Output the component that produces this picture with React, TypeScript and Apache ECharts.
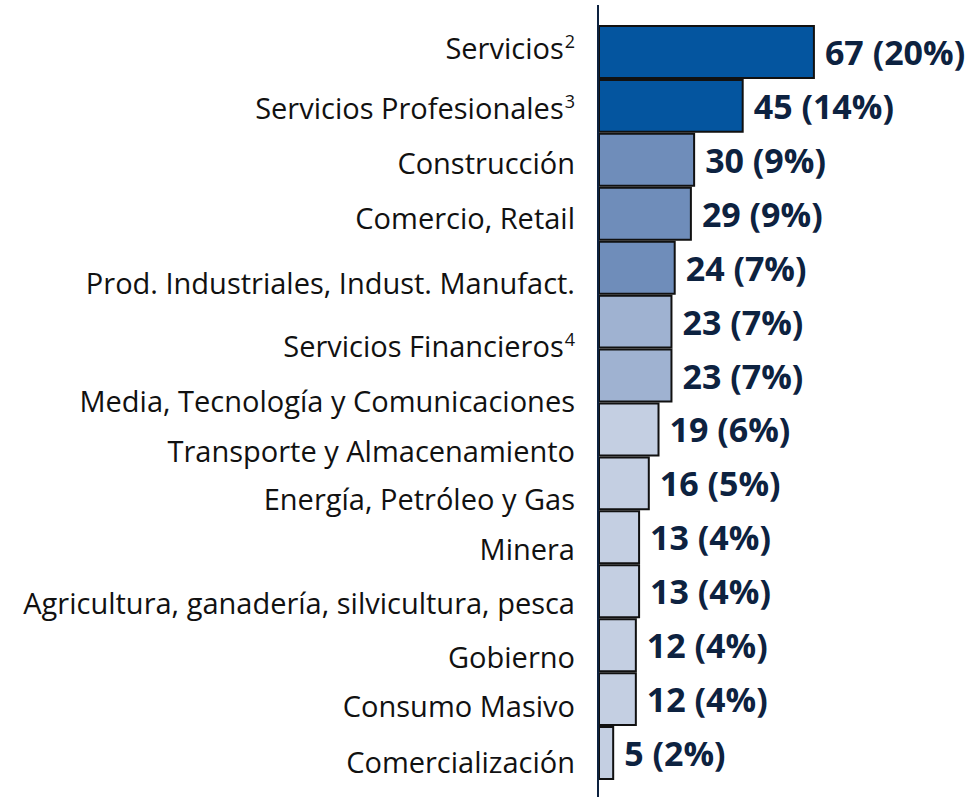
import React, { useEffect, useRef } from "react";
import * as echarts from "echarts";

const categories = [
  "Servicios",
  "Servicios Profesionales",
  "Construcción",
  "Comercio, Retail",
  "Prod. Industriales, Indust. Manufact.",
  "Servicios Financieros",
  "Media, Tecnología y Comunicaciones",
  "Transporte y Almacenamiento",
  "Energía, Petróleo y Gas",
  "Minera",
  "Agricultura, ganadería, silvicultura, pesca",
  "Gobierno",
  "Consumo Masivo",
  "Comercialización",
];
const footnotes = ["2", "3", "", "", "", "4", "", "", "", "", "", "", "", ""];
const counts = [67, 45, 30, 29, 24, 23, 23, 19, 16, 13, 13, 12, 12, 5];
const percents = [20, 14, 9, 9, 7, 7, 7, 6, 5, 4, 4, 4, 4, 2];
const tiers = [0, 0, 1, 1, 1, 2, 2, 3, 3, 3, 3, 3, 3, 3];

const palette = ["#04559f", "#6f8dba", "#9fb2d1", "#c4cfe2"];
// vertical nudge of each category label (px), as in the reference layout
const labelShift = [-4, 2, 3, 4, 15, 24, 25, 21, 15, 11, 11, 11, 6, 8];

export default function App() {
  const ref = useRef<HTMLDivElement>(null);
  useEffect(() => {
    if (!ref.current) return;
    const chart = echarts.init(ref.current, undefined, { renderer: "svg" });
    const rich: Record<string, any> = {};
    const mainLH = 34;
    const supLH = 20;
    const supRaise = mainLH - supLH;
    labelShift.forEach((d, i) => {
      const top = d >= 0 ? 2 * d : 0;
      const bottom = d >= 0 ? 0 : -2 * d;
      rich["n" + i] = {
        fontFamily: "Open Sans",
        fontSize: 29,
        color: "#111111",
        lineHeight: mainLH,
        padding: [top, 0, bottom, 0],
      };
      rich["s" + i] = {
        fontFamily: "Open Sans",
        fontSize: 18,
        color: "#111111",
        lineHeight: supLH,
        padding: [top, 0, bottom + supRaise, 1],
      };
    });
    chart.setOption({
      animation: false,
      grid: { left: 598, top: 25, width: 259, bottom: 17, containLabel: false },
      xAxis: {
        type: "value",
        min: 0,
        max: 80,
        show: false,
      },
      yAxis: {
        type: "category",
        inverse: true,
        data: categories,
        axisLine: { show: false },
        axisTick: { show: false },
        axisLabel: {
          margin: 23,
          formatter: (v: string, i: number) =>
            `{n${i}|${v}}` + (footnotes[i] ? `{s${i}|${footnotes[i]}}` : ""),
          rich,
        },
      },
      graphic: [
        {
          type: "line",
          shape: { x1: 598, y1: 5, x2: 598, y2: 797 },
          style: { stroke: "#0d2240", lineWidth: 2 },
          z: 10,
        },
      ],
      series: [
        {
          type: "bar",
          barCategoryGap: "0%",
          data: counts.map((c, i) => ({
            value: c,
            itemStyle: { color: palette[tiers[i]] },
          })),
          itemStyle: { borderColor: "#111111", borderWidth: 2 },
          label: {
            show: true,
            position: "right",
            distance: 10,
            fontFamily: "Open Sans",
            fontWeight: "bold",
            fontSize: 34,
            color: "#0d2240",
            formatter: (p: any) => `${counts[p.dataIndex]} (${percents[p.dataIndex]}%)`,
          },
        },
      ],
    });
    return () => chart.dispose();
  }, []);
  return (
    <div
      ref={ref}
      style={{ position: "fixed", left: 0, top: 0, width: 972, height: 797, background: "#fff" }}
    />
  );
}
